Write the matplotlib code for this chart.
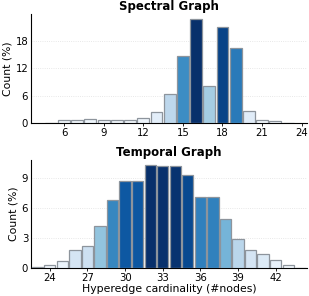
import numpy as np
import matplotlib.pyplot as plt
from matplotlib import cm
from matplotlib.colors import Normalize

# spectral graph: hyperedge size distribution (percent)
spec_x = list(range(5, 24))
spec_y = [0.1, 0.6, 0.6, 0.9, 0.7, 0.6, 0.6, 1.1, 2.3, 6.3, 14.6,
          22.7, 8.0, 21.1, 16.3, 2.6, 0.6, 0.35, 0.1]
spec_ticks = [6, 9, 12, 15, 18, 21, 24]
spec_yticks = [0, 6, 12, 18]

# temporal graph
temp_x = list(range(23, 45))
temp_y = [0.1, 0.33, 0.66, 1.76, 2.16, 4.15, 6.8, 8.64, 8.7, 10.23, 10.17,
          10.1, 9.27, 7.1, 7.04, 4.85, 2.92, 1.76, 1.36, 0.76, 0.27, 0.03]
temp_ticks = [24, 27, 30, 33, 36, 39, 42]
temp_yticks = [0, 3, 6, 9]

plt.rcParams['font.family'] = 'DejaVu Sans'
plt.rcParams['font.size'] = 7

fig = plt.figure(figsize=(3.09, 2.96), dpi=100)
ax1 = fig.add_axes([31/309, 1 - 123/296, 276/309, 109/296])
ax2 = fig.add_axes([31/309, 1 - 268/296, 276/309, 108/296])


def draw(ax, xs, ys, xticks, yticks, xlim, title):
    ys = np.array(ys)
    cols = cm.Blues(Normalize(0, ys.max())(ys))
    ax.bar(xs, ys, width=0.9, color=cols, edgecolor='#8d949c', linewidth=0.9, zorder=3)
    ax.set_xlim(*xlim)
    ax.set_ylim(0, ys.max() * 1.05)
    ax.set_xticks(xticks)
    ax.set_yticks(yticks)
    ax.grid(axis='y', linestyle=':', color='#e0e0e0', linewidth=0.6, zorder=0)
    ax.spines['top'].set_visible(False)
    ax.spines['right'].set_visible(False)
    ax.spines['left'].set_linewidth(0.8)
    ax.spines['bottom'].set_linewidth(0.8)
    ax.tick_params(axis='x', length=2, width=0.6, pad=1.5, labelsize=7.3)
    ax.tick_params(axis='y', length=0, pad=2, labelsize=7.3)
    ax.set_ylabel('Count (%)', labelpad=2, fontsize=7.8)
    ax.set_title(title, fontweight='bold', fontsize=8.5, pad=3)


draw(ax1, spec_x, spec_y, spec_ticks, spec_yticks, (3.5, 24.4), 'Spectral Graph')
draw(ax2, temp_x, temp_y, temp_ticks, temp_yticks, (22.5, 44.5), 'Temporal Graph')
ax2.set_xlabel('Hyperedge cardinality (#nodes)', labelpad=1, fontsize=7.8)

fig.savefig('out.png', dpi=100)
